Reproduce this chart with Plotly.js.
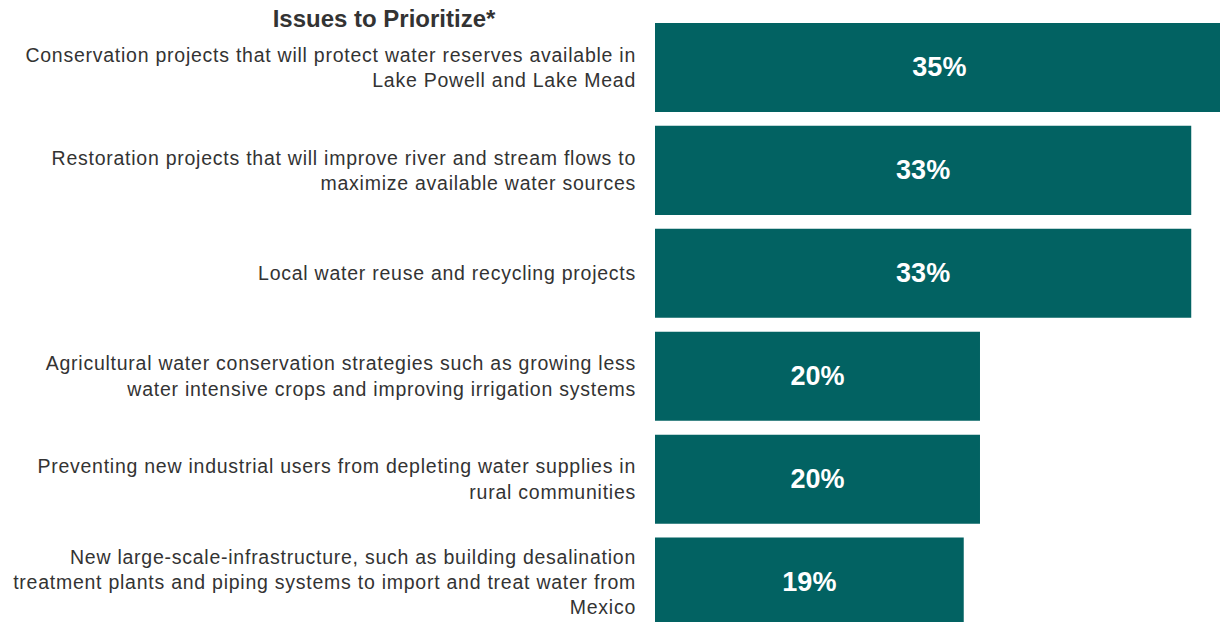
<!DOCTYPE html>
<html>
<head>
<meta charset="utf-8">
<script src="https://cdn.plot.ly/plotly-3.0.1.min.js"></script>
<style>
html,body{margin:0;padding:0;background:#fff;}
#chart{width:1220px;height:622px;}
#chart .ytick text{letter-spacing:0.75px;}
</style>
</head>
<body>
<div id="chart"></div>
<script>
const categories = [
  "Conservation projects that will protect water reserves available in<br>Lake Powell and Lake Mead",
  "Restoration projects that will improve river and stream flows to<br>maximize available water sources",
  "Local water reuse and recycling projects",
  "Agricultural water conservation strategies such as growing less<br>water intensive crops and improving irrigation systems",
  "Preventing new industrial users from depleting water supplies in<br>rural communities",
  "New large-scale-infrastructure, such as building desalination<br>treatment plants and piping systems to import and treat water from<br>Mexico"
];
const values = [35, 33, 33, 20, 20, 19];
const chartTitle = "Issues to Prioritize*";

const trace = {
  type: 'bar',
  orientation: 'h',
  x: values,
  y: categories,
  marker: {color: '#026262', line: {width: 0}},
  texttemplate: '%{x}%',
  textposition: 'inside',
  insidetextanchor: 'middle',
  textangle: 0,
  textfont: {family: 'Liberation Sans, Arial, sans-serif', size: 27, color: '#ffffff', weight: 'bold'},
  hoverinfo: 'none',
  cliponaxis: true
};

const layout = {
  width: 1220,
  height: 622,
  margin: {l: 655, r: 0, t: 15.5, b: 0, pad: 0},
  paper_bgcolor: '#ffffff',
  plot_bgcolor: '#ffffff',
  showlegend: false,
  bargap: 0.135,
  font: {family: 'Liberation Sans, Arial, sans-serif', color: '#333333'},
  title: {
    text: '<b>' + chartTitle + '</b>',
    font: {family: 'Liberation Sans, Arial, sans-serif', size: 24, color: '#333333'},
    x: 384 / 1220, xref: 'container', xanchor: 'center',
    y: 1 - 19 / 622, yref: 'container', yanchor: 'middle'
  },
  xaxis: {
    range: [0, 34.77],
    visible: false,
    fixedrange: true
  },
  yaxis: {
    type: 'category',
    range: [5.388, -0.5],
    showgrid: false,
    zeroline: false,
    showline: false,
    ticks: '',
    ticklabelstandoff: 18,
    tickfont: {family: 'Liberation Sans, Arial, sans-serif', size: 19.5, color: '#333333'},
    fixedrange: true
  }
};

Plotly.newPlot('chart', [trace], layout, {displayModeBar: false, staticPlot: true});
</script>
</body>
</html>
